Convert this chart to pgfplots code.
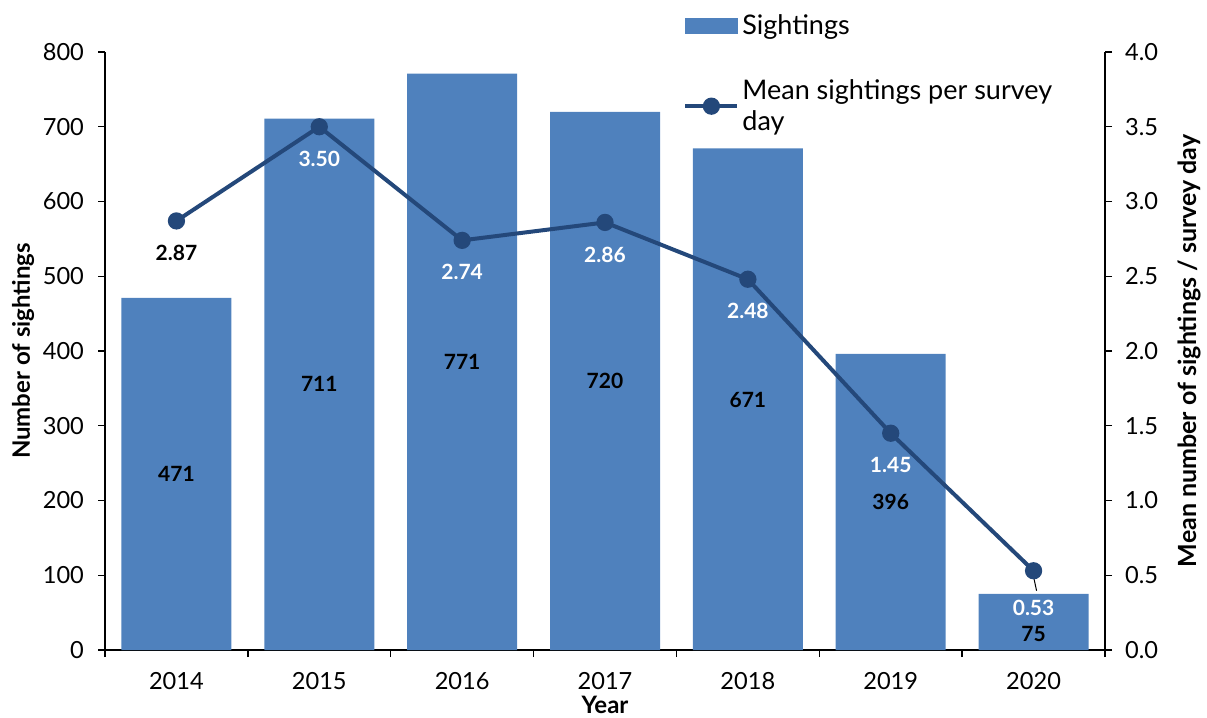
\documentclass[border=0pt]{standalone}
\usepackage{fontspec}
\setmainfont{Lato}
\usepackage{pgfplots}
\pgfplotsset{compat=1.18}
\definecolor{barblue}{RGB}{79,129,189}
\definecolor{linenavy}{RGB}{36,72,122}
\tikzset{lab/.style={font=\fontsize{10.5}{12}\selectfont\bfseries}}

\begin{document}
\begin{tikzpicture}
\pgfplotsset{
  every axis/.append style={
    width=500pt, height=299pt, scale only axis,
    xmin=-0.5, xmax=6.5,
    /pgf/number format/assume math mode=true,
    tick label style={font=\fontsize{11.8}{13}\selectfont},
    label style={font=\fontsize{12}{14}\selectfont\bfseries},
    tick align=outside, major tick length=3.5pt,
    tick style={black, line width=0.7pt},
    axis line style={line width=0.7pt},
  },
}
% bars: sightings per year (left axis)
\begin{axis}[
  name=ax,
  axis x line*=bottom, axis y line*=left,
  ymin=0, ymax=800, ytick={0,100,...,800},
  xtick={-0.5,0.5,...,6.5}, x tick label as interval,
  xticklabels={2014,2015,2016,2017,2018,2019,2020},
  xticklabel style={yshift=-4pt},
  yticklabel style={xshift=-3.5pt},
  xlabel={Year}, ylabel={Number of sightings},
  xlabel style={yshift=3.5pt},
  ylabel style={yshift=-2.5pt},
]
\addplot[ybar, bar width=0.77, fill=barblue, draw=none] coordinates {
  (0,471) (1,711) (2,771) (3,720) (4,671) (5,396) (6,75)
};
\node[lab] at (axis cs:0,235) {471};
\node[lab] at (axis cs:1,356) {711};
\node[lab] at (axis cs:2,385) {771};
\node[lab] at (axis cs:3,360) {720};
\node[lab] at (axis cs:4,335) {671};
\node[lab] at (axis cs:5,198) {396};
\node[lab] at (axis cs:6,21) {75};
\end{axis}

% line: mean sightings per survey day (right axis)
\begin{axis}[
  axis x line=none, axis y line*=right,
  ymin=0, ymax=4, ytick={0,0.5,...,4},
  yticklabel style={xshift=3pt, /pgf/number format/.cd, fixed, fixed zerofill, precision=1},
  ylabel={Mean number of sightings / survey day},
  ylabel style={yshift=-3pt, font=\fontsize{12.5}{14}\selectfont\bfseries},
  legend style={at={(0.572,1.077)}, anchor=north west, draw=none, fill=none,
    font=\fontsize{13.5}{15.5}\selectfont, row sep=17pt,
    nodes={inner xsep=1.5pt},
    cells={anchor=west, align=left}},
]
\addlegendimage{legend image code/.code={\fill[barblue] (0pt,-3.75pt) rectangle (26pt,3.75pt);}}
\addlegendentry{Sightings}
\addplot[linenavy, line width=2pt, mark=*, mark size=3.3pt,
  legend image code/.code={\draw[mark repeat=2, mark phase=2] plot coordinates {(0pt,0pt) (13pt,0pt) (26pt,0pt)};}]
  coordinates {
  (0,2.87) (1,3.50) (2,2.74) (3,2.86) (4,2.48) (5,1.45) (6,0.53)
};
\addlegendentry{Mean sightings per survey\\day}
\node[lab, black] at ([yshift=-16pt]axis cs:0,2.87) {2.87};
\node[lab, white] at ([yshift=-16pt]axis cs:1,3.50) {3.50};
\node[lab, white] at ([yshift=-16pt]axis cs:2,2.74) {2.74};
\node[lab, white] at ([yshift=-16pt]axis cs:3,2.86) {2.86};
\node[lab, white] at ([yshift=-16pt]axis cs:4,2.48) {2.48};
\node[lab, white] at ([yshift=-16pt]axis cs:5,1.45) {1.45};
\node[lab, white] at ([yshift=-18.5pt]axis cs:6,0.53) {0.53};
\draw[black, line width=0.5pt] ([yshift=-3pt]axis cs:6,0.53) -- ++(1.5pt,-7pt);
\end{axis}
\pgfresetboundingbox
\path ([shift={(-52.5pt,-33.5pt)}]ax.south west) rectangle ([shift={(51pt,26pt)}]ax.north east);
\end{tikzpicture}
\end{document}
